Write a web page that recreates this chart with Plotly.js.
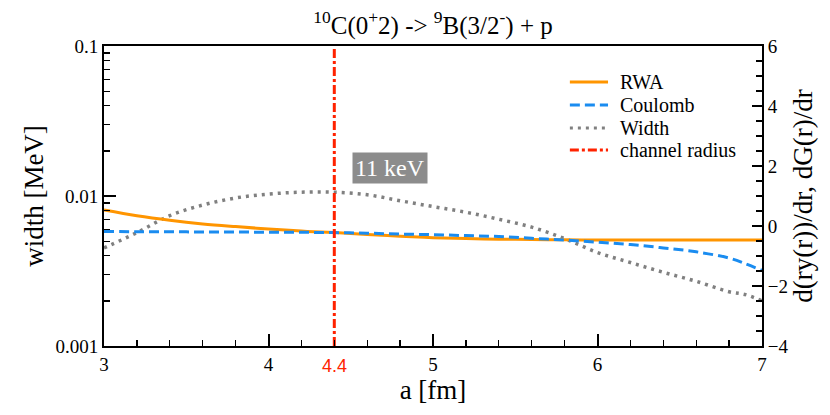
<!DOCTYPE html>
<html>
<head>
<meta charset="utf-8">
<script src="https://cdn.plot.ly/plotly-3.0.1.min.js"></script>
<style>
html,body{margin:0;padding:0;background:#fff;}
#chart{width:830px;height:415px;}
</style>
</head>
<body>
<div id="chart"></div>
<script>
// ---- data ----
var radius = [3.0, 3.2, 3.4, 3.6, 3.8, 4.0, 4.2, 4.4, 4.6, 4.8, 5.0, 5.2, 5.4, 5.6, 5.8, 6.0, 6.2, 6.4, 6.6, 6.8, 6.9, 7.0];
var rwa     = [0.53, 0.34, 0.19, 0.07, -0.02, -0.10, -0.17, -0.22, -0.28, -0.34, -0.39, -0.42, -0.44, -0.45, -0.46, -0.47, -0.47, -0.47, -0.47, -0.47, -0.47, -0.47];
var coulomb = [-0.18, -0.19, -0.19, -0.20, -0.20, -0.21, -0.21, -0.22, -0.24, -0.27, -0.29, -0.32, -0.35, -0.41, -0.47, -0.54, -0.62, -0.73, -0.86, -1.07, -1.26, -1.48];
var widthMeV = [0.0045, 0.0057, 0.0074, 0.0087, 0.0097, 0.0103, 0.0106, 0.0106, 0.0102, 0.0093, 0.0085, 0.0078, 0.0070, 0.0062, 0.0052, 0.0042, 0.0036, 0.0031, 0.0027, 0.0023, 0.0022, 0.0020];
var channelRadius = 4.4;
var xRange = [3, 7];
var y2Range = [-4, 6];
var yTickVals = [0.001, 0.01, 0.1];
var yTickText = ['0.001', '0.01', '0.1'];
var seriesNames = ['RWA', 'Coulomb', 'Width', 'channel radius'];
var seriesColors = ['#ff9500', '#1a8cf0', '#808080', '#ff2200'];
var seriesDashes = ['solid', '10px,5px', '3px,5px', '9px,3px,3px,3px'];

var FONT = 'Liberation Serif';
var SANS = 'Liberation Sans';
var maxWidth = Math.max.apply(null, widthMeV);

var traces = [
  {x: radius, y: rwa, yaxis: 'y2', name: seriesNames[0], mode: 'lines',
   line: {color: seriesColors[0], width: 3, dash: seriesDashes[0], shape: 'spline'}},
  {x: radius, y: coulomb, yaxis: 'y2', name: seriesNames[1], mode: 'lines',
   line: {color: seriesColors[1], width: 3, dash: seriesDashes[1], shape: 'spline'}},
  {x: radius, y: widthMeV, yaxis: 'y', name: seriesNames[2], mode: 'lines',
   line: {color: seriesColors[2], width: 3.5, dash: seriesDashes[2], shape: 'spline'}},
  {x: [channelRadius, channelRadius], y: y2Range, yaxis: 'y2', name: seriesNames[3], mode: 'lines',
   line: {color: seriesColors[3], width: 3, dash: seriesDashes[3]}}
];

function axisTitleFont() { return {family: FONT, size: 27, color: '#000'}; }
function tickFont() { return {family: FONT, size: 19, color: '#000'}; }
function minorTicks(extra) {
  var m = {ticks: 'inside', ticklen: 6, tickwidth: 1.3, tickcolor: '#000', showgrid: false};
  for (var k in extra) m[k] = extra[k];
  return m;
}

// legend drawn as layout shapes + annotations (paper coordinates)
var legendRowsY = [0.88, 0.803, 0.727, 0.653];
var legendShapes = [];
var legendAnns = [];
for (var i = 0; i < seriesNames.length; i++) {
  legendShapes.push({type: 'line', xref: 'paper', yref: 'paper',
    x0: 0.708, x1: 0.766, y0: legendRowsY[i], y1: legendRowsY[i],
    line: {color: seriesColors[i], width: 3, dash: seriesDashes[i]}});
  legendAnns.push({xref: 'paper', yref: 'paper', x: 0.781, y: legendRowsY[i],
    xanchor: 'left', yanchor: 'middle', showarrow: false, text: seriesNames[i],
    font: {family: FONT, size: 20, color: '#000'}});
}

var layout = {
  width: 830, height: 415,
  margin: {l: 104, r: 68, t: 46, b: 69},
  paper_bgcolor: '#fff', plot_bgcolor: '#fff',
  font: {family: FONT, color: '#000', size: 19},
  showlegend: false,
  title: {text: '<sup>10</sup>C(0<sup>+</sup>2) -> <sup>9</sup>B(3/2<sup>-</sup>) + p',
          x: 0.5, xref: 'paper', y: 0.94, yanchor: 'middle',
          font: {family: FONT, size: 25, color: '#000'}},
  xaxis: {
    range: xRange, tickmode: 'linear', tick0: 3, dtick: 1,
    ticks: 'inside', ticklen: 12, tickwidth: 2, tickcolor: '#000',
    showline: true, linewidth: 2, linecolor: '#000', mirror: true,
    showgrid: false, zeroline: false,
    tickfont: tickFont(),
    minor: minorTicks({dtick: 0.2}),
    title: {text: 'a [fm]', font: axisTitleFont(), standoff: 4}
  },
  yaxis: {
    type: 'log', range: [-3, -1], tickmode: 'array', tickvals: yTickVals, ticktext: yTickText,
    ticks: 'inside', ticklen: 12, tickwidth: 2, tickcolor: '#000',
    showline: true, linewidth: 2, linecolor: '#000',
    showgrid: false, zeroline: false,
    tickfont: tickFont(),
    minor: minorTicks({dtick: 'D1'}),
    title: {text: 'width [MeV]', font: axisTitleFont(), standoff: 4}
  },
  yaxis2: {
    overlaying: 'y', side: 'right', range: y2Range, tickmode: 'linear', dtick: 2, tick0: -4,
    ticks: 'inside', ticklen: 10, tickwidth: 2, tickcolor: '#000',
    showline: true, linewidth: 2, linecolor: '#000',
    showgrid: false, zeroline: false,
    tickfont: tickFont(),
    minor: minorTicks({dtick: 0.5}),
    title: {text: 'd(ry(r))/dr, dG(r)/dr', font: axisTitleFont(), standoff: 4}
  },
  shapes: legendShapes,
  annotations: [
    {
      xref: 'x', yref: 'paper',
      x: channelRadius + 0.34, y: 0.592,
      text: Math.round(maxWidth * 1000) + ' keV',
      showarrow: false, bgcolor: '#8c8c8c',
      font: {family: FONT, size: 24, color: '#fff'},
      borderpad: 2
    },
    {
      xref: 'x', yref: 'paper',
      x: channelRadius, y: 0, yshift: -8, yanchor: 'top',
      text: String(channelRadius),
      showarrow: false,
      font: {family: SANS, size: 18, color: '#ff2200'}
    }
  ].concat(legendAnns)
};

Plotly.newPlot('chart', traces, layout, {staticPlot: true, displayModeBar: false});
</script>
</body>
</html>
